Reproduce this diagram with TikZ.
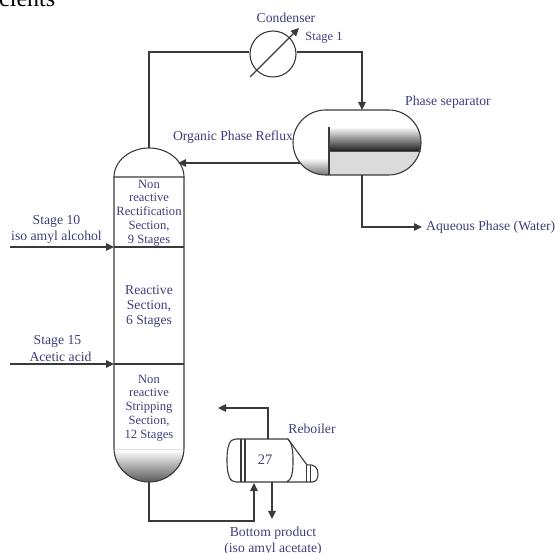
\documentclass[tikz,border=0pt]{standalone}
\usepackage{fontspec}
\setmainfont{Liberation Serif}
\usetikzlibrary{arrows.meta,calc}
\definecolor{ink}{HTML}{3E3E7C}
\definecolor{wire}{HTML}{3A3A3A}
\tikzset{
  lbl/.style={text=ink,font=\fontsize{13.7}{15.5}\selectfont,inner sep=0pt,align=center},
  sec/.style={text=ink,font=\fontsize{12.6}{13.8}\selectfont,inner sep=0pt,align=center},
  pipe/.style={draw=wire,line width=1.1pt},
  flow/.style={pipe,-{Triangle[length=8pt,width=7.5pt]}},
  vessel/.style={draw=wire,line width=1.1pt},
}
\newcommand{\sepoutline}{(325.5,110) -- (388.5,110) .. controls (406.5,110) and (421,124.5) .. (421,142.5) .. controls (421,160.5) and (406.5,175) .. (388.5,175) -- (325.5,175) .. controls (307.5,175) and (293,160.5) .. (293,142.5) .. controls (293,124.5) and (307.5,110) .. (325.5,110) -- cycle}
\begin{document}
\begin{tikzpicture}[x=1pt,y=-1pt]
\useasboundingbox (0,0) rectangle (555,553);
% clipped text at the top edge
\node[anchor=base west,inner sep=0pt,font=\fontsize{24}{26}\selectfont,text=black] (frag) at (-1,7) {cients};
% fills
\fill[top color=white,bottom color=black!65] (114,450) .. controls (114,467) and (130,482) .. (149,482) .. controls (168,482) and (184,467) .. (184,450) -- cycle;
\begin{scope}
\clip \sepoutline;
\fill[top color=white,bottom color=black!88] (329,127) rectangle (422,151);
\fill[black!14] (329,151) rectangle (422,175);
\fill[top color=white,bottom color=black!55] (293,158) rectangle (329,175);
\end{scope}
% column
\draw[vessel] (114,177) .. controls (114,161) and (130,148) .. (149,148) .. controls (168,148) and (184,161) .. (184,177) -- cycle;
\draw[vessel] (114,177) -- (114,448) .. controls (114,467) and (130,482) .. (149,482) .. controls (168,482) and (184,467) .. (184,448) -- (184,177);
\coordinate (coltop) at (149,148);
\coordinate (colbot) at (149,482);
\coordinate (feedA) at (114,247);
\coordinate (feedB) at (114,364);
\coordinate (feedAr) at (184,247);
\coordinate (feedBr) at (184,364);
\draw[pipe] (feedA) -- (feedAr);
\draw[pipe] (feedB) -- (feedBr);
\coordinate (srcA) at (10,247);
\coordinate (srcB) at (10,364);
\draw[flow] (srcA) -- (feedA);
\draw[flow] (srcB) -- (feedB);
% condenser
\node[draw=wire,line width=1.1pt,circle,minimum size=46pt,inner sep=0pt] (cond) at (273,54) {};
\coordinate (heatA) at (250,77);
\coordinate (heatB) at (299,28);
\draw[flow] (heatA) -- (heatB);
\draw[pipe] (coltop) |- (cond.west |- 0,52);
\coordinate (sepin) at (362,110);
\draw[flow] (cond.east |- 0,52) -| (sepin);
% separator
\draw[vessel] \sepoutline;
\coordinate (weirT) at (329,127);
\coordinate (weirB) at (329,175);
\draw[pipe] (weirT) -- (weirB);
\draw[draw=black!70,line width=.8pt] (329,151) -- (421,151);
\coordinate (refluxS) at (300,163);
\coordinate (refluxE) at (178,163);
\draw[flow] (refluxS) -- (refluxE);
\coordinate (sepout) at (362,175);
\coordinate (aq) at (422,227);
\draw[flow] (sepout) |- (aq);
% reboiler
\draw[vessel] (236,439) -- (288,439) -- (307,465) .. controls (315,464) and (318,468) .. (318,474) .. controls (318,479) and (316,482) .. (312,482) -- (236,482) .. controls (230,482) and (227,476) .. (227,460) .. controls (227,445) and (230,439) .. (236,439) -- cycle;
\draw[vessel] (241,439) -- (241,482) (245,439) -- (245,482);
\draw[vessel] (288,439) .. controls (292,443) and (293,450) .. (293,461) .. controls (293,472) and (292,479) .. (287,482);
\draw[vessel,line width=.8pt] (306,465) -- (306,482) (310,465) -- (310,482);
\coordinate (rebtop) at (268,439);
\coordinate (retn) at (218,408);
\draw[flow] (rebtop) |- (retn);
\coordinate (rebin) at (254,483);
\coordinate (rebbot) at (272,482);
\coordinate (prod) at (272,519);
\draw[flow] (rebbot) -- (prod);
\draw[flow] (colbot) |- (254,521) -- (rebin);
% labels
\node[lbl] (lcond) at (286,18) {Condenser};
\node[lbl,font=\fontsize{12.5}{14}\selectfont] (lst1) at (324,38) {Stage 1};
\node[lbl] (lsep) at (448,102) {Phase separator};
\node[lbl] (lref) at (233,137) {Organic Phase Reflux};
\node[lbl,anchor=west] (laq) at (426,227) {Aqueous Phase (Water)};
\node[lbl] (lA) at (56.5,229.5) {Stage 10\\iso amyl alcohol};
\node[lbl] (lB1) at (57.5,341) {Stage 15};
\node[lbl] (lB2) at (60.5,356.5) {Acetic acid};
\node[sec] (s1) at (149,213) {Non\\reactive\\Rectification\\Section,\\9 Stages};
\node[sec,font=\fontsize{13.6}{15}\selectfont] (s2) at (149,306) {Reactive\\Section,\\6 Stages};
\node[sec] (s3) at (149,408) {Non\\reactive\\Stripping\\Section,\\12 Stages};
\node[lbl] (lreb) at (312,429) {Reboiler};
\node[lbl,font=\fontsize{14.5}{16}\selectfont] (l27) at (265,460) {27};
\node[lbl] (lprod) at (273,541) {Bottom product\\(iso amyl acetate)};
\end{tikzpicture}
\end{document}
